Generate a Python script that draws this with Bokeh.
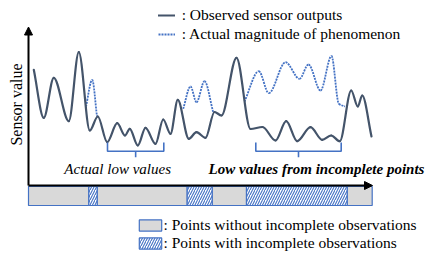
import numpy as np
from bokeh.plotting import figure
from bokeh.models import (Range1d, Arrow, NormalHead, Label, ColumnDataSource,
                          Legend, LegendItem)
from bokeh.embed import file_html
from bokeh.resources import INLINE

# ---------------- data (time, sensor value) ----------------
obs_t = [5.3, 15.3, 25.3, 40.3, 50.3, 61.3, 69.3, 78.7, 88.7, 96.5, 101.3, 109.3,
         117.0, 127.0, 134.7, 142.0, 149.3, 160.3, 168.0, 177.0, 186.0, 193.0,
         208.0, 222.0, 234.0, 247.0, 257.7, 268.7, 282.0, 293.7, 302.7, 311.3,
         322.7, 329.3, 333.7, 343.0]
obs_v = [115.7, 67.7, 107.7, 64.3, 133.3, 55.0, 69.0, 43.3, 62.3, 50.0, 56.7, 40.0,
         57.7, 41.7, 66.0, 51.7, 85.7, 46.7, 53.3, 47.7, 73.5, 70.0,
         127.7, 56.5, 58.5, 45.0, 64.3, 44.3, 58.3, 45.7, 50.0, 44.3,
         95.0, 79.0, 90.0, 49.0]

act1_t = [57.5, 63.7, 68.5]
act1_v = [79.0, 105.7, 69.0]
act2_t = [154.7, 162.0, 168.0, 176.0, 184.7]
act2_v = [76.7, 99.0, 83.3, 104.3, 73.3]
act3_t = [216.0, 230.3, 240.3, 257.0, 271.0, 280.0, 292.0, 303.0, 310.3, 316.5]
act3_v = [84.0, 114.3, 92.3, 123.3, 106.7, 121.0, 95.0, 129.5, 81.7, 79.0]

seg_start = [0.0, 60.3, 68.7, 158.7, 183.7, 218.0, 318.7]
seg_end = [60.3, 68.7, 158.7, 183.7, 218.0, 318.7, 343.7]
seg_status = ["complete", "incomplete", "complete", "incomplete",
              "complete", "incomplete", "complete"]

low_start = [79.0, 227.3]
low_end = [135.3, 312.7]
low_labels = ["Actual low values", "Low values from incomplete points"]

legend_top = [": Observed sensor outputs", ": Actual magnitude of phenomenon"]
legend_bottom = [": Points without incomplete observations",
                 ": Points with incomplete observations"]
y_label = "Sensor value"

# ---------------- styles ----------------
FONT = "Liberation Serif"
OBS_COLOR = "#44546a"
ACT_COLOR = "#4472c4"
BLUE = "#4472c4"
GRAY = "#d9d9d9"


def bezier_source(t, v):
    """Monotone cubic (PCHIP) tangents turned into Bezier control points."""
    t = np.asarray(t, float)
    v = np.asarray(v, float)
    h = np.diff(t)
    d = np.diff(v) / h
    n = len(t)
    m = np.zeros(n)
    m[0] = d[0]
    m[-1] = d[-1]
    for k in range(1, n - 1):
        if d[k - 1] * d[k] <= 0:
            m[k] = 0.0
        else:
            w1 = 2 * h[k] + h[k - 1]
            w2 = h[k] + 2 * h[k - 1]
            m[k] = (w1 + w2) / (w1 / d[k - 1] + w2 / d[k])
    return ColumnDataSource(dict(
        x0=t[:-1], y0=v[:-1], x1=t[1:], y1=v[1:],
        cx0=t[:-1] + h / 3, cy0=v[:-1] + m[:-1] * h / 3,
        cx1=t[1:] - h / 3, cy1=v[1:] - m[1:] * h / 3))


p = figure(width=436, height=262, x_range=Range1d(-28, 408), y_range=Range1d(-77, 185),
           output_backend="svg", toolbar_location=None, min_border=0,
           x_axis_location=None, y_axis_location=None)
p.grid.visible = False
p.outline_line_color = None
p.background_fill_color = "white"

# status bar
comp = [i for i, s in enumerate(seg_status) if s == "complete"]
inc = [i for i, s in enumerate(seg_status) if s == "incomplete"]
src_c = ColumnDataSource(dict(l=[seg_start[i] for i in comp], r=[seg_end[i] for i in comp]))
src_i = ColumnDataSource(dict(l=[seg_start[i] for i in inc], r=[seg_end[i] for i in inc]))
r_comp = p.quad(left="l", right="r", bottom=-20, top=-1, source=src_c,
                fill_color=GRAY, line_color=BLUE, line_width=1.2)
r_inc = p.quad(left="l", right="r", bottom=-20, top=-1, source=src_i,
               fill_color="white", line_color=BLUE, line_width=1.2,
               hatch_pattern="right_diagonal_line", hatch_color=BLUE,
               hatch_scale=5, hatch_weight=1.1)

# axes with arrows
p.add_layout(Arrow(end=NormalHead(size=8, fill_color="black", line_color="black", line_width=1),
                   x_start=0, y_start=0, x_end=0, y_end=158.5,
                   line_color="black", line_width=2))
p.add_layout(Arrow(end=NormalHead(size=8, fill_color="black", line_color="black", line_width=1),
                   x_start=0, y_start=0, x_end=344, y_end=0,
                   line_color="black", line_width=2))

# curves
r_act = None
for tt, vv in ((act1_t, act1_v), (act2_t, act2_v), (act3_t, act3_v)):
    r_act = p.bezier(x0="x0", y0="y0", x1="x1", y1="y1", cx0="cx0", cy0="cy0",
                     cx1="cx1", cy1="cy1", source=bezier_source(tt, vv),
                     line_color=ACT_COLOR, line_width=1.8, line_dash="2 1")
r_obs = p.bezier(x0="x0", y0="y0", x1="x1", y1="y1", cx0="cx0", cy0="cy0",
                 cx1="cx1", cy1="cy1", source=bezier_source(obs_t, obs_v),
                 line_color=OBS_COLOR, line_width=2.2, line_cap="round", line_join="round")

# braces for low periods
brace_xs, brace_ys = [], []
for a, b in zip(low_start, low_end):
    c = (a + b) / 2
    brace_xs.append([a, a, c, c, c, b, b])
    brace_ys.append([43, 34.3, 34.3, 28.3, 34.3, 34.3, 43])
p.multi_line(xs=brace_xs, ys=brace_ys, line_color=BLUE, line_width=1.6)

styles = ["italic", "bold italic"]
label_shift = [-18, 18]
for a, b, txt, st, dx in zip(low_start, low_end, low_labels, styles, label_shift):
    p.add_layout(Label(x=(a + b) / 2 + dx, y=16.7, text=txt, text_align="center",
                       text_baseline="alphabetic", text_font=FONT, text_font_size="15px",
                       text_font_style=st, text_color="black"))

p.add_layout(Label(x=-12, y=81, text=y_label, angle=np.pi / 2, text_align="center",
                   text_baseline="middle", text_font=FONT, text_font_size="16px",
                   text_color="black"))

# legends
leg1 = Legend(items=[LegendItem(label=legend_top[0], renderers=[r_obs]),
                     LegendItem(label=legend_top[1], renderers=[r_act])],
              location=(157.7, 218.7), orientation="vertical",
              glyph_width=17, glyph_height=18, label_height=18, label_standoff=7,
              spacing=1, padding=0, margin=0,
              background_fill_alpha=0, border_line_color=None,
              label_text_font=FONT, label_text_font_size="15.5px", label_text_color="black")
leg2 = Legend(items=[LegendItem(label=legend_bottom[0], renderers=[r_comp]),
                     LegendItem(label=legend_bottom[1], renderers=[r_inc])],
              location=(135.5, 10.5), orientation="vertical",
              glyph_width=28, glyph_height=14, label_height=17, label_standoff=0,
              spacing=0, padding=0, margin=0,
              background_fill_alpha=0, border_line_color=None,
              label_text_font=FONT, label_text_font_size="15.5px", label_text_color="black")
p.add_layout(leg1)
p.add_layout(leg2)

open("out.html", "w").write(file_html(p, INLINE))
